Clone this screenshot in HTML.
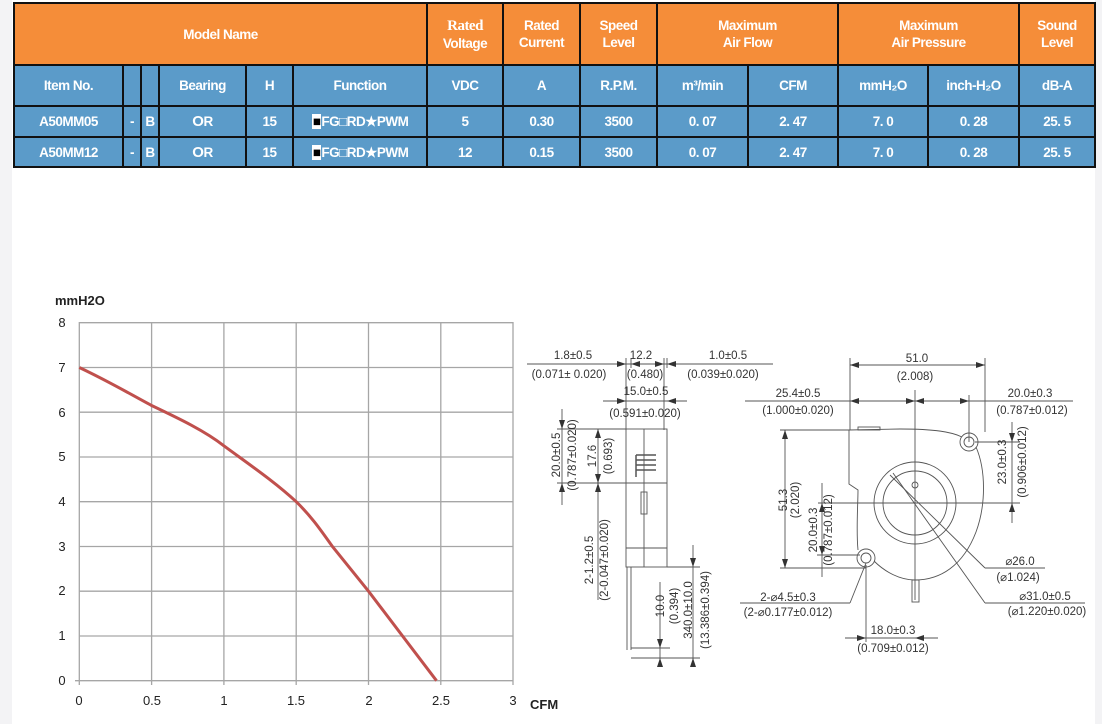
<!DOCTYPE html>
<html><head><meta charset="utf-8"><style>
body{margin:0;width:1102px;height:724px;background:#fff;position:relative;overflow:hidden;font-family:"Liberation Sans",sans-serif}
.strip{position:absolute;top:0;bottom:0;background:#f3f3f5}
table{position:absolute;left:13px;top:2px;border-collapse:collapse;table-layout:fixed;width:1081px}
td{border:2px solid #111;color:#fff;font-weight:bold;font-size:13.5px;text-align:center;padding:0;letter-spacing:-0.5px;line-height:17px}
.o td{background:#f58d39}
.b td{background:#5b9bc9}
.sq{font-size:16px;color:#000;text-shadow:0 0 0 #fff}
</style></head><body>
<div class="strip" style="left:0;width:12px"></div>
<div class="strip" style="left:1095px;width:7px"></div>
<table>
<colgroup><col style="width:109px"><col style="width:18px"><col style="width:18px"><col style="width:87px"><col style="width:47px"><col style="width:134px"><col style="width:76px"><col style="width:77px"><col style="width:77px"><col style="width:91px"><col style="width:90px"><col style="width:90px"><col style="width:91px"><col style="width:76px"></colgroup>
<tr class="o" style="height:62px"><td colspan="6">Model Name</td><td><span style="font-family:'Liberation Serif',serif;font-size:15px">Rated</span><br>Voltage</td><td>Rated<br>Current</td><td>Speed<br>Level</td><td colspan="2">Maximum<br>Air Flow</td><td colspan="2">Maximum<br>Air Pressure</td><td>Sound<br>Level</td></tr>
<tr class="b" style="height:41px"><td>Item No.</td><td></td><td></td><td>Bearing</td><td>H</td><td>Function</td><td>VDC</td><td>A</td><td>R.P.M.</td><td>m³/min</td><td>CFM</td><td>mmH₂O</td><td>inch-H₂O</td><td>dB-A</td></tr>
<tr class="b" style="height:31px"><td>A50MM05</td><td>-</td><td>B</td><td><span style="font-size:15px">O</span>R</td><td>15</td><td><span style="color:#000;background:#fff;padding:0 1px">■</span>FG□RD★PWM</td><td>5</td><td>0.30</td><td>3500</td><td>0. 07</td><td>2. 47</td><td>7. 0</td><td>0. 28</td><td>25. 5</td></tr>
<tr class="b" style="height:30px"><td>A50MM12</td><td>-</td><td>B</td><td><span style="font-size:15px">O</span>R</td><td>15</td><td><span style="color:#000;background:#fff;padding:0 1px">■</span>FG□RD★PWM</td><td>12</td><td>0.15</td><td>3500</td><td>0. 07</td><td>2. 47</td><td>7. 0</td><td>0. 28</td><td>25. 5</td></tr>
</table>
<svg width="1102" height="724" style="position:absolute;left:0;top:0" font-family="Liberation Sans, sans-serif">
<g stroke="#a6a6a6" stroke-width="1.3">
<line x1="79" y1="322.7" x2="513" y2="322.7"/><line x1="79" y1="367.5" x2="513" y2="367.5"/><line x1="79" y1="412.2" x2="513" y2="412.2"/><line x1="79" y1="457" x2="513" y2="457"/><line x1="79" y1="501.7" x2="513" y2="501.7"/><line x1="79" y1="546.5" x2="513" y2="546.5"/><line x1="79" y1="591.2" x2="513" y2="591.2"/><line x1="79" y1="636" x2="513" y2="636"/><line x1="75" y1="680.7" x2="513" y2="680.7"/>
<line x1="79.3" y1="322" x2="79.3" y2="685"/><line x1="151.6" y1="322" x2="151.6" y2="685"/><line x1="223.9" y1="322" x2="223.9" y2="685"/><line x1="296.2" y1="322" x2="296.2" y2="685"/><line x1="368.5" y1="322" x2="368.5" y2="685"/><line x1="440.8" y1="322" x2="440.8" y2="685"/><line x1="513" y1="322" x2="513" y2="685"/>
</g>
<path d="M79.3,367.5 C110,382 130,394 151.6,405.5 C180,419 205,431 223.9,445.8 C250,465 275,482 296.2,501.7 C312,517 322,532 332.4,546.5 L368.5,591.2 L436.5,680.7" fill="none" stroke="#c0504d" stroke-width="3"/>
<g font-size="13" fill="#222" text-anchor="middle">
<text x="62" y="327">8</text><text x="62" y="372">7</text><text x="62" y="417">6</text><text x="62" y="461">5</text><text x="62" y="506">4</text><text x="62" y="551">3</text><text x="62" y="595">2</text><text x="62" y="640">1</text><text x="62" y="685">0</text>
<text x="79" y="705">0</text><text x="152" y="705">0.5</text><text x="224" y="705">1</text><text x="296" y="705">1.5</text><text x="369" y="705">2</text><text x="441" y="705">2.5</text><text x="513" y="705">3</text>
</g>
<text x="55" y="305" font-size="13" font-weight="bold" fill="#222">mmH2O</text>
<text x="530" y="709" font-size="13" font-weight="bold" fill="#222">CFM</text>

<g stroke="#555" stroke-width="0.9" fill="none">
<line x1="527" y1="364" x2="773" y2="364"/>
<line x1="603" y1="401" x2="687" y2="401"/>
<line x1="626" y1="358" x2="626" y2="430"/><line x1="631" y1="358" x2="631" y2="368"/><line x1="664" y1="358" x2="664" y2="430"/><line x1="667" y1="358" x2="667" y2="368"/>
<rect x="626" y="429" width="41" height="138"/>
<line x1="626" y1="483" x2="667" y2="483"/><line x1="644" y1="429" x2="644" y2="567"/>
<path d="M636,455 h20 M636,460 h20 M636,465 h20 M636,470 h20 M636,455 v22" stroke-width="1.5"/>
<rect x="641" y="492" width="6" height="22"/>
<line x1="626" y1="548" x2="667" y2="548"/>
<line x1="627" y1="567" x2="627" y2="650"/><line x1="631" y1="567" x2="631" y2="650"/>
<line x1="562" y1="409" x2="562" y2="505"/><line x1="557" y1="429" x2="626" y2="429"/><line x1="557" y1="483" x2="626" y2="483"/>
<line x1="598" y1="429" x2="598" y2="600"/>
<line x1="660" y1="582" x2="660" y2="662"/><line x1="693" y1="545" x2="693" y2="662"/>
<line x1="631" y1="648" x2="670" y2="648"/><line x1="667" y1="567" x2="700" y2="567"/><line x1="631" y1="658" x2="700" y2="658"/>

<line x1="850" y1="365" x2="985" y2="365"/><line x1="850" y1="358" x2="850" y2="430"/><line x1="985" y1="358" x2="985" y2="432"/>
<line x1="745" y1="401" x2="1073" y2="401"/><line x1="969" y1="395" x2="969" y2="442"/>
<line x1="915" y1="390" x2="915" y2="600"/><line x1="818" y1="503" x2="995" y2="503"/>
<path d="M849,430 L900,429 C935,429 952,432 962,437 M976,447 C986,470 986,505 976,532 C963,566 940,580 915,580 C900,580 885,572 874,561 M858,550 C856,530 858,505 858,490 L849,484 L849,430"/>
<circle cx="969" cy="442" r="9"/><circle cx="969" cy="442" r="5"/>
<circle cx="866" cy="558" r="9"/><circle cx="866" cy="558" r="5"/>
<rect x="858" y="427" width="22" height="3"/>
<rect x="912" y="580" width="7" height="22"/>
<circle cx="915" cy="503" r="41"/><circle cx="915" cy="503" r="32"/><circle cx="915" cy="485" r="3"/>
<line x1="785" y1="430" x2="785" y2="568"/><line x1="780" y1="430" x2="849" y2="430"/><line x1="780" y1="568" x2="866" y2="568"/>
<line x1="822" y1="483" x2="822" y2="577"/><line x1="817" y1="555" x2="860" y2="555"/>
<line x1="1012" y1="422" x2="1012" y2="523"/><line x1="975" y1="442" x2="1020" y2="442"/><line x1="990" y1="503" x2="1020" y2="503"/>
<line x1="985" y1="568" x2="1045" y2="568"/><line x1="985" y1="568" x2="890" y2="475"/>
<line x1="985" y1="603" x2="1085" y2="603"/><line x1="985" y1="603" x2="893" y2="473"/>
<line x1="740" y1="603" x2="850" y2="603"/><line x1="850" y1="603" x2="866" y2="563"/>
<line x1="845" y1="638" x2="938" y2="638"/><line x1="866" y1="565" x2="866" y2="642"/>
</g>
<g fill="#333">
<path d="M626,364 l-9,-3 v6z M631,364 l9,-3 v6z M664,364 l-9,-3 v6z M667,364 l9,-3 v6z M626,401 l-9,-3 v6z M667,401 l9,-3 v6z M850,365 l9,-3 v6z M985,365 l-9,-3 v6z M850,401 l9,-3 v6z M915,401 l-9,-3 v6z M915,401 l9,-3 v6z M969,401 l-9,-3 v6z M562,429 l-3,-9 h6z M562,483 l-3,9 h6z M598,429 l-3,9 h6z M598,483 l-3,-9 h6z M598,483 l-3,9 h6z M785,430 l-3,9 h6z M785,568 l-3,-9 h6z M822,555 l-3,-9 h6z M822,503 l-3,9 h6z M1012,442 l-3,-9 h6z M1012,503 l-3,9 h6z M660,648 l-3,-9 h6z M660,658 l-3,9 h6z M693,567 l-3,-9 h6z M693,658 l-3,9 h6z M866,638 l-9,-3 v6z M915,638 l9,-3 v6z"/>
</g>
<g font-size="11.5" fill="#333" text-anchor="middle">
<text x="573" y="359">1.8±0.5</text><text x="569" y="378">(0.071± 0.020)</text>
<text x="641" y="359">12.2</text><text x="645" y="378">(0.480)</text>
<text x="728" y="359">1.0±0.5</text><text x="723" y="378">(0.039±0.020)</text>
<text x="646" y="395">15.0±0.5</text><text x="645" y="417">(0.591±0.020)</text>
<text transform="translate(560,455) rotate(-90)">20.0±0.5</text><text transform="translate(576,455) rotate(-90)">(0.787±0.020)</text>
<text transform="translate(596,456) rotate(-90)">17.6</text><text transform="translate(612,456) rotate(-90)">(0.693)</text>
<text transform="translate(593,560) rotate(-90)">2-1.2±0.5</text><text transform="translate(608,560) rotate(-90)">(2-0.047±0.020)</text>
<text transform="translate(664,606) rotate(-90)">10.0</text><text transform="translate(678,606) rotate(-90)">(0.394)</text>
<text transform="translate(692,610) rotate(-90)">340.0±10.0</text><text transform="translate(709,610) rotate(-90)">(13.386±0.394)</text>
<text x="917" y="362">51.0</text><text x="915" y="380">(2.008)</text>
<text x="798" y="397">25.4±0.5</text><text x="798" y="414">(1.000±0.020)</text>
<text x="1030" y="397">20.0±0.3</text><text x="1032" y="414">(0.787±0.012)</text>
<text transform="translate(787,500) rotate(-90)">51.3</text><text transform="translate(799,500) rotate(-90)">(2.020)</text>
<text transform="translate(817,530) rotate(-90)">20.0±0.3</text><text transform="translate(832,530) rotate(-90)">(0.787±0.012)</text>
<text transform="translate(1006,462) rotate(-90)">23.0±0.3</text><text transform="translate(1026,462) rotate(-90)">(0.906±0.012)</text>
<text x="1020" y="565">⌀26.0</text><text x="1018" y="581">(⌀1.024)</text>
<text x="1045" y="600">⌀31.0±0.5</text><text x="1047" y="615">(⌀1.220±0.020)</text>
<text x="788" y="601">2-⌀4.5±0.3</text><text x="788" y="616">(2-⌀0.177±0.012)</text>
<text x="893" y="634">18.0±0.3</text><text x="893" y="652">(0.709±0.012)</text>
</g>
</svg>
</body></html>
